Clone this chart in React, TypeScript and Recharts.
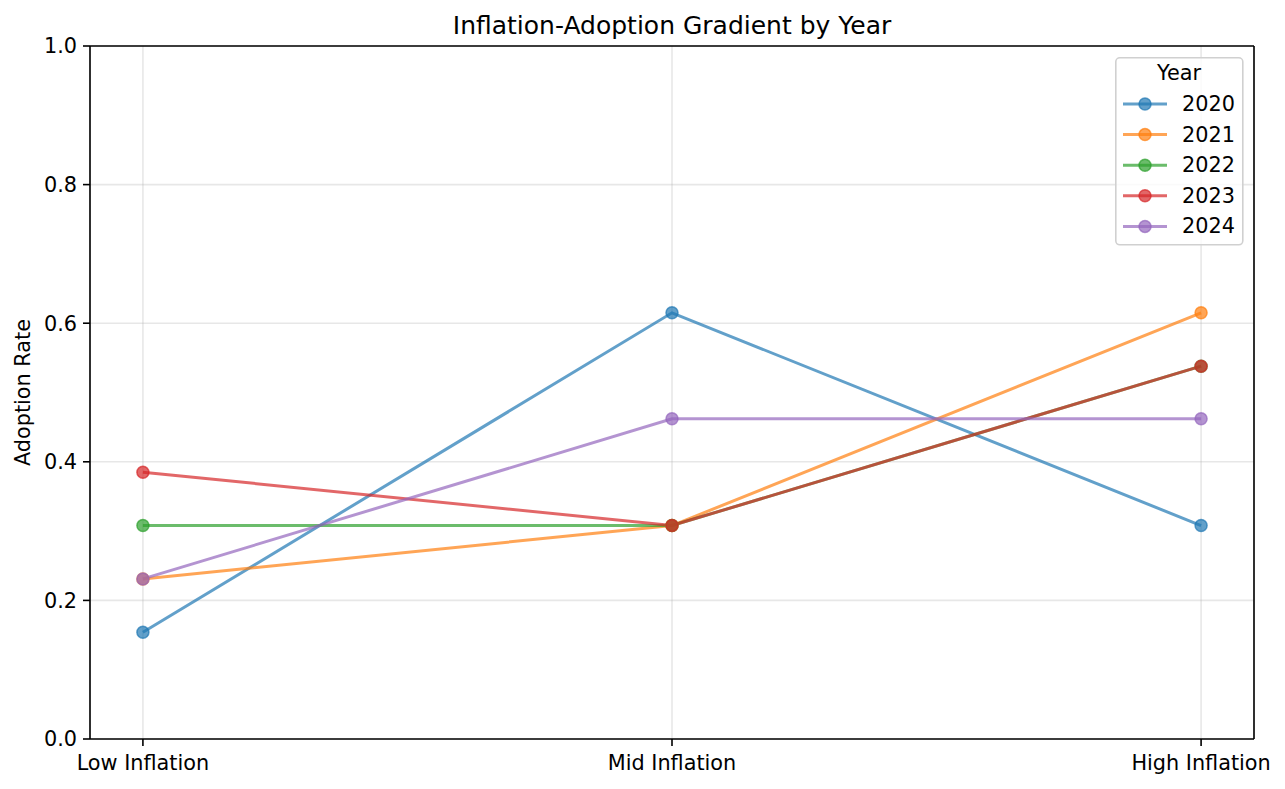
import React from 'react';
import { LineChart, Line, XAxis, YAxis, CartesianGrid, ReferenceLine } from 'recharts';

const categories = ['Low Inflation', 'Mid Inflation', 'High Inflation'];
const years = ['2020', '2021', '2022', '2023', '2024'];
const colors = ['#1f77b4', '#ff7f0e', '#2ca02c', '#d62728', '#9467bd'];
const s2020 = [0.154, 0.615, 0.308];
const s2021 = [0.231, 0.308, 0.615];
const s2022 = [0.308, 0.308, 0.538];
const s2023 = [0.385, 0.308, 0.538];
const s2024 = [0.231, 0.462, 0.462];
const seriesValues = [s2020, s2021, s2022, s2023, s2024];
const yTicks = [0, 0.2, 0.4, 0.6, 0.8, 1.0];
const xTicks = [0, 1, 2];

const data = categories.map((c, i) => {
  const row: Record<string, number | string> = { x: i, name: c };
  years.forEach((y, k) => {
    row['y' + y] = seriesValues[k][i];
  });
  return row;
});

const FONT = 'DejaVu Sans, sans-serif';
const FS = 20.8;

const W = 1285;
const H = 789;

export default function App() {
  return (
    <div style={{ position: 'absolute', left: 0, top: 0, width: W, height: H, background: '#fff', fontFamily: FONT }}>
      <LineChart
        width={W}
        height={H}
        data={data}
        margin={{ top: 46, right: 31, bottom: 0, left: 0 }}
        style={{ fontFamily: FONT }}
      >
        <CartesianGrid stroke="#b0b0b0" strokeOpacity={0.3} strokeWidth={1.6} />
        <XAxis
          dataKey="x"
          type="number"
          domain={[-0.1, 2.1]}
          ticks={xTicks}
          tickFormatter={(v: number) => categories[v]}
          height={50}
          tickSize={7}
          tickMargin={9}
          interval={0}
          allowDataOverflow
          axisLine={{ stroke: '#000', strokeWidth: 1.6 }}
          tickLine={{ stroke: '#000', strokeWidth: 1.6 }}
          tick={{ fill: '#000', fontSize: FS, fontFamily: FONT }}
        />
        <YAxis
          type="number"
          domain={[0, 1]}
          ticks={yTicks}
          tickFormatter={(v: number) => v.toFixed(1)}
          width={90}
          tickSize={7}
          tickMargin={6}
          interval={0}
          axisLine={{ stroke: '#000', strokeWidth: 1.6 }}
          tickLine={{ stroke: '#000', strokeWidth: 1.6 }}
          tick={{ fill: '#000', fontSize: FS, fontFamily: FONT }}
          label={(props: any) => {
            const vb = props.viewBox || { x: 0, y: 46, width: 90, height: 693 };
            const cx = 23;
            const cy = vb.y + vb.height / 2;
            return (
              <text
                x={cx}
                y={cy}
                transform={`rotate(-90, ${cx}, ${cy})`}
                textAnchor="middle"
                dominantBaseline="central"
                fill="#000"
                fontSize={FS}
                fontFamily={FONT}
              >
                Adoption Rate
              </text>
            );
          }}
        />
        <ReferenceLine y={1} stroke="#000" strokeWidth={1.6} />
        <ReferenceLine x={2.1} stroke="#000" strokeWidth={1.6} />
        {years.map((y, k) => (
          <Line
            key={y}
            type="linear"
            dataKey={'y' + y}
            stroke={colors[k]}
            strokeOpacity={0.7}
            strokeWidth={3}
            isAnimationActive={false}
            dot={{ r: 6, fill: colors[k], fillOpacity: 0.7, stroke: colors[k], strokeOpacity: 0.7, strokeWidth: 1.5 }}
            activeDot={false}
          />
        ))}
      </LineChart>
      <div
        style={{
          position: 'absolute',
          left: 0,
          top: 26,
          width: W,
          textAlign: 'center',
          fontSize: 25,
          lineHeight: '0px',
          fontFamily: FONT,
          color: '#000',
          pointerEvents: 'none',
        }}
      >
        <span style={{ position: 'absolute', left: 90 + (1254 - 90) / 2, transform: 'translateX(-50%)', whiteSpace: 'nowrap' }}>
          Inflation-Adoption Gradient by Year
        </span>
      </div>
      <svg
        style={{ position: 'absolute', left: 1115, top: 57 }}
        width={129}
        height={189}
      >
        <rect x={0.8} y={0.8} width={127} height={187} rx={4} ry={4} fill="#fff" fillOpacity={0.8} stroke="#d0d0d0" strokeWidth={1.6} />
        <text x={64} y={16} textAnchor="middle" dominantBaseline="central" fontSize={FS} fontFamily={FONT} fill="#000">
          Year
        </text>
        {years.map((y, k) => {
          const cy = 47 + k * 30.6;
          return (
            <g key={y}>
              <line x1={8} x2={52} y1={cy} y2={cy} stroke={colors[k]} strokeOpacity={0.7} strokeWidth={3} />
              <circle cx={30} cy={cy} r={6} fill={colors[k]} fillOpacity={0.7} stroke={colors[k]} strokeOpacity={0.7} strokeWidth={1.5} />
              <text x={67} y={cy} dominantBaseline="central" fontSize={FS} fontFamily={FONT} fill="#000">
                {y}
              </text>
            </g>
          );
        })}
      </svg>
    </div>
  );
}
